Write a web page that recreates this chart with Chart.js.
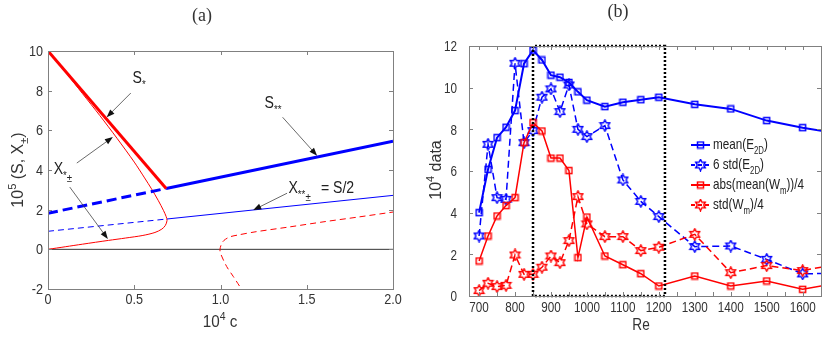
<!DOCTYPE html>
<html>
<head>
<meta charset="utf-8">
<script src="https://cdn.jsdelivr.net/npm/chart.js@4.4.0/dist/chart.umd.min.js"></script>
<style>
  body { margin: 0; background: #fff; }
  #wrap { position: relative; width: 830px; height: 337px; }
  #ca { position: absolute; left: 0; top: 0; }
  #cb { position: absolute; left: 420px; top: 0; }
</style>
</head>
<body>
<div id="wrap">
  <canvas id="ca" width="420" height="337"></canvas>
  <canvas id="cb" width="410" height="337"></canvas>
</div>
<script>
// ---------- panel (a) data: 10^4 c vs 10^5 (S, X) ----------
const sStarC = [0, 0.685];
const sStarV = [10, 3.07];
const sStarStarC = [0.685, 2.0];
const sStarStarV = [3.07, 5.45];
const sLowC = [0, 0.685];
const sLowV = [1.82, 3.07];
const halfLowC = [0, 0.69];
const halfLowV = [0.91, 1.53];
const halfC = [0.69, 2.0];
const halfV = [1.53, 2.72];
const xStarC = [0, 0.1, 0.2, 0.3, 0.4, 0.5, 0.56, 0.6, 0.64, 0.67, 0.685, 0.69, 0.68, 0.66, 0.62, 0.55, 0.45, 0.35, 0.2, 0.1, 0];
const xStarV = [10, 8.95, 7.85, 6.75, 5.6, 4.4, 3.6, 3.05, 2.45, 1.95, 1.65, 1.45, 1.2, 1.02, 0.85, 0.7, 0.57, 0.45, 0.26, 0.13, 0];
const xFarC = [1.11, 1.075, 1.036, 1.0, 0.997, 1.005, 1.02, 1.055, 1.1, 1.2, 1.4, 1.6, 1.8, 2.0];
const xFarV = [-1.85, -1.38, -0.87, -0.2, 0, 0.25, 0.45, 0.63, 0.72, 0.88, 1.13, 1.39, 1.63, 1.88];
const xTicksA = [0, 0.5, 1.0, 1.5, 2.0];
const yTicksA = [-2, 0, 2, 4, 6, 8, 10];

// ---------- panel (b) data: Re vs 10^4 data ----------
const reVals = [700, 725, 750, 775, 800, 825, 850, 875, 900, 925, 950, 975, 1000, 1050, 1100, 1150, 1200, 1300, 1400, 1500, 1600, 1700];
const meanE2D = [4.0, 6.08, 7.6, 8.1, 8.9, 11.15, 11.8, 11.33, 10.6, 10.5, 10.25, 9.8, 9.4, 9.09, 9.3, 9.42, 9.54, 9.2, 8.98, 8.42, 8.08, 7.8];
const stdE2D6 = [2.88, 7.28, 4.72, 4.64, 11.17, 7.36, 7.94, 9.54, 9.94, 8.85, 10.13, 8.0, 7.65, 8.18, 5.57, 4.54, 3.81, 2.37, 2.4, 1.76, 1.06, 1.1];
const absMeanWm4 = [1.68, 2.88, 3.84, 4.34, 4.72, 7.36, 8.32, 7.92, 6.62, 6.62, 6.02, 1.84, 3.79, 1.92, 1.5, 1.07, 0.48, 0.96, 0.48, 0.72, 0.32, 0.64];
const stdWm4 = [0.26, 0.61, 0.45, 0.51, 1.97, 1.04, 1.04, 1.38, 1.92, 1.6, 2.66, 4.77, 3.46, 2.85, 2.85, 2.18, 2.34, 2.96, 1.12, 1.46, 1.22, 1.54];
const boxRe = [850, 1217];
const boxVal = [0, 12];
const xTicksB = [700, 750, 800, 850, 900, 950, 1000, 1050, 1100, 1150, 1200, 1250, 1300, 1350, 1400, 1450, 1500, 1550, 1600, 1650];
const yTicksB = [0, 2, 4, 6, 8, 10, 12];
const legendB = ['mean(E', '6 std(E', 'abs(mean(W', 'std(W'];
const legendSubs = [['2D', ')'], ['2D', ')'], ['m', '))/4'], ['m', ')/4']];

const FONT = "'Liberation Sans', Arial, sans-serif";
const TXT = '#333';
const BLUE = '#0000ff';
const RED = '#ff0000';

function pts(xs, ys) {
  return xs.map((x, i) => ({ x: x, y: ys[i] }));
}

// markers
function makeSquare(color) {
  const c = document.createElement('canvas');
  c.width = c.height = 9;
  const g = c.getContext('2d');
  g.strokeStyle = color;
  g.lineWidth = 1.5;
  g.strokeRect(1.5, 1.5, 6, 6);
  return c;
}
function makeHex(color) {
  const c = document.createElement('canvas');
  c.width = c.height = 13;
  const g = c.getContext('2d');
  g.strokeStyle = color;
  g.lineWidth = 1.4;
  g.beginPath();
  for (let k = 0; k < 12; k++) {
    const r = k % 2 === 0 ? 5.6 : 3.2;
    const a = (k * 30 - 90) * Math.PI / 180;
    const px = 6.5 + r * Math.cos(a), py = 6.5 + r * Math.sin(a);
    if (k === 0) g.moveTo(px, py); else g.lineTo(px, py);
  }
  g.closePath();
  g.stroke();
  return c;
}
const sqBlue = makeSquare(BLUE), sqRed = makeSquare(RED);
const hxBlue = makeHex(BLUE), hxRed = makeHex(RED);

// rich text, squeezed horizontally by k like the source figure
// parts = [[text, mode]], mode 0 normal, 1 sub, 2 sup, 3 deep sub
function drawRich(ctx, x, y, parts, size, align, k) {
  const small = Math.round(size * 0.68);
  let w = 0;
  parts.forEach(p => {
    ctx.font = (p[1] ? small : size) + 'px ' + FONT;
    w += ctx.measureText(p[0]).width;
  });
  ctx.save();
  ctx.translate(x, y);
  ctx.scale(k, 1);
  let cx = align === 'center' ? -w / 2 : (align === 'right' ? -w : 0);
  ctx.textAlign = 'left';
  ctx.textBaseline = 'alphabetic';
  parts.forEach(p => {
    ctx.font = (p[1] ? small : size) + 'px ' + FONT;
    let dy = 0;
    if (p[1] === 1) dy = size * 0.3;
    if (p[1] === 2) dy = -size * 0.42;
    if (p[1] === 3) dy = size * 0.5;
    ctx.fillText(p[0], cx, dy);
    cx += ctx.measureText(p[0]).width;
  });
  ctx.restore();
}

function drawArrow(ctx, x1, y1, x2, y2) {
  const a = Math.atan2(y2 - y1, x2 - x1);
  ctx.strokeStyle = '#444';
  ctx.lineWidth = 0.8;
  ctx.beginPath();
  ctx.moveTo(x1, y1);
  ctx.lineTo(x2 - 6 * Math.cos(a), y2 - 6 * Math.sin(a));
  ctx.stroke();
  ctx.fillStyle = '#111';
  ctx.beginPath();
  ctx.moveTo(x2, y2);
  ctx.lineTo(x2 - 8 * Math.cos(a) + 3 * Math.sin(a), y2 - 8 * Math.sin(a) - 3 * Math.cos(a));
  ctx.lineTo(x2 - 8 * Math.cos(a) - 3 * Math.sin(a), y2 - 8 * Math.sin(a) + 3 * Math.cos(a));
  ctx.closePath();
  ctx.fill();
}

// box, inward ticks and tick labels, matlab style
const frame = {
  id: 'frame',
  afterDraw(chart, args, opts) {
    const { ctx, chartArea: ca, scales } = chart;
    ctx.save();
    ctx.strokeStyle = '#808080';
    ctx.lineWidth = 1;
    ctx.strokeRect(Math.round(ca.left) + 0.5, Math.round(ca.top) + 0.5, Math.round(ca.right - ca.left), Math.round(ca.bottom - ca.top));
    ctx.beginPath();
    scales.x.ticks.forEach(t => {
      const px = Math.round(scales.x.getPixelForValue(t.value)) + 0.5;
      ctx.moveTo(px, ca.bottom); ctx.lineTo(px, ca.bottom - 4);
      ctx.moveTo(px, ca.top); ctx.lineTo(px, ca.top + 4);
    });
    scales.y.ticks.forEach(t => {
      const py = Math.round(scales.y.getPixelForValue(t.value)) + 0.5;
      ctx.moveTo(ca.left, py); ctx.lineTo(ca.left + 4, py);
      ctx.moveTo(ca.right, py); ctx.lineTo(ca.right - 4, py);
    });
    ctx.stroke();
    ctx.fillStyle = TXT;
    scales.x.ticks.forEach(t => {
      const lab = opts.fmtX(t.value);
      if (lab) drawRich(ctx, scales.x.getPixelForValue(t.value), ca.bottom + opts.padX + opts.size * 0.72, [[lab, 0]], opts.size, 'center', opts.k);
    });
    scales.y.ticks.forEach(t => {
      drawRich(ctx, ca.left - opts.padY, scales.y.getPixelForValue(t.value) + opts.size * 0.36, [[String(t.value), 0]], opts.size, 'right', opts.k);
    });
    ctx.restore();
  }
};

function axisOpts(min, max, ticks, fit, isX) {
  return {
    type: 'linear', min: min, max: max,
    afterBuildTicks: s => { s.ticks = ticks.map(v => ({ value: v })); },
    afterFit: s => { if (isX) s.height = fit; else s.width = fit; },
    grid: { display: false, drawTicks: false },
    border: { display: false },
    ticks: { display: false }
  };
}

// ---------- chart (a) ----------
const annA = {
  id: 'annA',
  afterDraw(chart) {
    const { ctx } = chart;
    const x = chart.scales.x, y = chart.scales.y;
    const X = v => x.getPixelForValue(v), Y = v => y.getPixelForValue(v);
    const k = 0.88;
    ctx.save();
    drawArrow(ctx, X(0.48), Y(7.88), X(0.34), Y(6.66));
    drawArrow(ctx, X(1.36), Y(6.66), X(1.56), Y(4.72));
    drawArrow(ctx, X(0.167), Y(4.35), X(0.376), Y(5.66));
    drawArrow(ctx, X(0.126), Y(3.14), X(0.347), Y(0.52));
    drawArrow(ctx, X(1.386), Y(2.83), X(1.19), Y(1.98));
    ctx.fillStyle = '#222';
    drawRich(ctx, X(0.49), Y(8.37), [['S', 0], ['*', 1]], 16, 'left', k);
    drawRich(ctx, X(1.255), Y(7.11), [['S', 0], ['**', 1]], 16, 'left', k);
    drawRich(ctx, X(0.033), Y(3.79), [['X', 0], ['*', 1], ['\u00b1', 3]], 16, 'left', k);
    drawRich(ctx, X(1.394), Y(2.85), [['X', 0], ['**', 1], ['\u00b1', 3]], 16, 'left', k);
    drawRich(ctx, X(1.582), Y(2.85), [['= S/2', 0]], 16, 'left', k);
    // title and axis labels
    ctx.font = "18px 'Liberation Serif', 'DejaVu Serif', serif";
    ctx.textAlign = 'center';
    ctx.textBaseline = 'middle';
    ctx.fillStyle = '#333';
    ctx.fillText('(a)', 202, 16);
    drawRich(ctx, 220, 327, [['10', 0], ['4', 2], [' c', 0]], 16, 'center', 0.95);
    ctx.translate(17, 170);
    ctx.rotate(-Math.PI / 2);
    drawRich(ctx, 0, 6, [['10', 0], ['5', 2], [' (S, X', 0], ['\u00b1', 1], [')', 0]], 16, 'center', 1);
    ctx.restore();
  }
};

new Chart(document.getElementById('ca'), {
  type: 'scatter',
  data: {
    datasets: [
      { data: pts(sStarC, sStarV), borderColor: RED, borderWidth: 3 },
      { data: pts(sStarStarC, sStarStarV), borderColor: BLUE, borderWidth: 3 },
      { data: pts(sLowC, sLowV), borderColor: BLUE, borderWidth: 3, borderDash: [10, 5] },
      { data: pts(halfLowC, halfLowV), borderColor: BLUE, borderWidth: 1, borderDash: [6, 4] },
      { data: pts(halfC, halfV), borderColor: BLUE, borderWidth: 1 },
      { data: pts(xStarC, xStarV), borderColor: RED, borderWidth: 1, tension: 0.3 },
      { data: pts(xFarC, xFarV), borderColor: RED, borderWidth: 1, borderDash: [6, 4], tension: 0.3 },
      { data: pts([0, 2], [0, 0]), borderColor: '#333', borderWidth: 1 }
    ].map(d => Object.assign({ showLine: true, pointRadius: 0, fill: false }, d))
  },
  options: {
    responsive: false,
    animation: false,
    events: [],
    layout: { padding: { top: 51, right: 27, left: 0, bottom: 0 } },
    plugins: {
      legend: { display: false }, tooltip: { enabled: false },
      frame: { k: 0.9, size: 14, padX: 5, padY: 5, fmtX: v => v === 0 ? '0' : v.toFixed(1) }
    },
    scales: {
      x: axisOpts(0, 2, xTicksA, 48, true),
      y: axisOpts(-2, 10, yTicksA, 48, false)
    }
  },
  plugins: [frame, annA]
});

// ---------- chart (b) ----------
const legendStyles = [
  { c: BLUE, m: sqBlue, d: [] },
  { c: BLUE, m: hxBlue, d: [4, 3] },
  { c: RED, m: sqRed, d: [] },
  { c: RED, m: hxRed, d: [4, 3] }
];

const annB = {
  id: 'annB',
  afterDraw(chart) {
    const { ctx } = chart;
    const k = 0.78;
    ctx.save();
    legendB.forEach((name, i) => {
      const yy = 145 + i * 20;
      const st = legendStyles[i];
      ctx.strokeStyle = st.c;
      ctx.lineWidth = 2;
      ctx.setLineDash(st.d);
      ctx.beginPath();
      ctx.moveTo(271, yy); ctx.lineTo(290, yy);
      ctx.stroke();
      ctx.setLineDash([]);
      ctx.drawImage(st.m, 280.5 - st.m.width / 2, yy - st.m.height / 2);
      ctx.fillStyle = '#222';
      drawRich(ctx, 293, yy + 4, [[name, 0], [legendSubs[i][0], 1], [legendSubs[i][1], 0]], 15, 'left', k);
    });
    ctx.font = "18px 'Liberation Serif', 'DejaVu Serif', serif";
    ctx.textAlign = 'center';
    ctx.textBaseline = 'middle';
    ctx.fillStyle = '#333';
    ctx.fillText('(b)', 198, 12);
    drawRich(ctx, 221, 330, [['Re', 0]], 16, 'center', 0.85);
    ctx.translate(15, 170);
    ctx.rotate(-Math.PI / 2);
    drawRich(ctx, 0, 6, [['10', 0], ['4', 2], [' data', 0]], 16, 'center', 1);
    ctx.restore();
  }
};

const boxPts = pts([boxRe[0], boxRe[0], boxRe[1], boxRe[1], boxRe[0]], [boxVal[0], boxVal[1], boxVal[1], boxVal[0], boxVal[0]]);

new Chart(document.getElementById('cb'), {
  type: 'scatter',
  data: {
    datasets: [
      { data: boxPts, borderColor: '#000', borderWidth: 2.5, borderDash: [2, 2], pointRadius: 0, clip: false, order: 0 },
      { data: pts(reVals, stdWm4), borderColor: RED, borderWidth: 1.5, borderDash: [7, 4], pointStyle: hxRed, order: 1 },
      { data: pts(reVals, absMeanWm4), borderColor: RED, borderWidth: 1.5, pointStyle: sqRed, order: 2 },
      { data: pts(reVals, stdE2D6), borderColor: BLUE, borderWidth: 1.5, borderDash: [7, 4], pointStyle: hxBlue, order: 3 },
      { data: pts(reVals, meanE2D), borderColor: BLUE, borderWidth: 2, pointStyle: sqBlue, order: 4 }
    ].map(d => Object.assign({ showLine: true, pointRadius: 4, fill: false }, d))
  },
  options: {
    responsive: false,
    animation: false,
    events: [],
    layout: { padding: { top: 46, right: 9, left: 0, bottom: 0 } },
    plugins: {
      legend: { display: false }, tooltip: { enabled: false },
      frame: { k: 0.78, size: 15, padX: 5, padY: 12, fmtX: v => v % 100 === 0 ? String(v) : '' }
    },
    scales: {
      x: axisOpts(672, 1651, xTicksB, 41, true),
      y: axisOpts(0, 12, yTicksB, 49, false)
    }
  },
  plugins: [frame, annB]
});
</script>
</body>
</html>
